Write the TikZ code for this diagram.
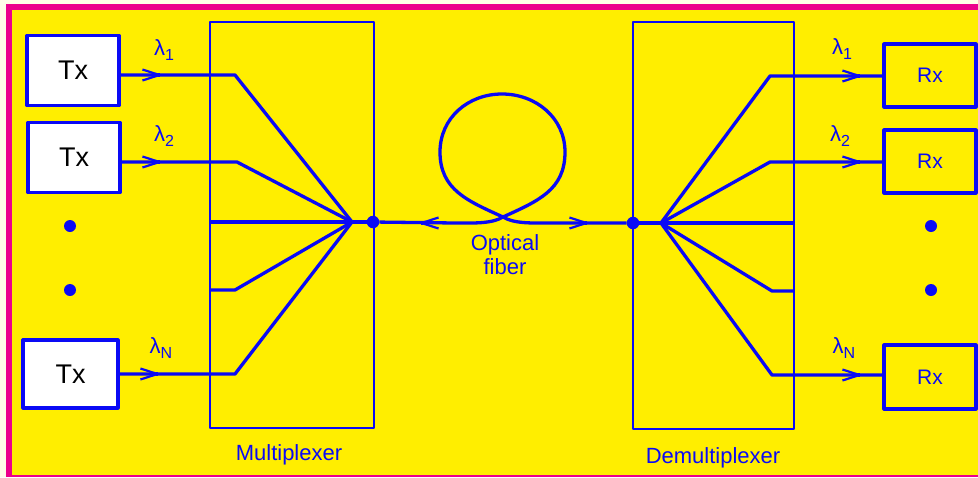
\documentclass[tikz,border=0pt]{standalone}
\usepackage{fontspec}
\setmainfont{Liberation Sans}
\usetikzlibrary{arrows.meta,calc}
\definecolor{bg}{RGB}{255,253,232}
\definecolor{mag}{RGB}{236,0,140}
\definecolor{yel}{RGB}{255,238,0}
\definecolor{fblue}{RGB}{10,10,245}
\newcommand{\lamsub}[1]{λ\raisebox{-5pt}{\fontsize{16}{16}\selectfont #1}}
\begin{document}
\begin{tikzpicture}[x=1pt,y=-1pt,line join=round,
 wire/.style={draw=fblue,line width=3.3pt},
 tip/.style={-{Straight Barb[length=17pt,width=11pt,line width=2.2pt]}},
 txbox/.style={draw=fblue,fill=white,line width=3.2pt,minimum width=92pt,minimum height=70pt,font=\fontsize{27}{30}\selectfont,text=black,inner sep=0pt},
 rxbox/.style={draw=fblue,line width=3.2pt,minimum width=92pt,minimum height=63pt,font=\fontsize{21}{25}\selectfont,text=fblue,inner sep=0pt},
 unit/.style={draw=fblue,line width=2.8pt,inner sep=0pt},
 lab/.style={text=fblue,font=\fontsize{22}{24}\selectfont,inner sep=0pt},
 lam/.style={text=fblue,font=\fontsize{22}{24}\selectfont,inner sep=0pt},
 dot/.style={circle,fill=fblue,inner sep=0pt,minimum size=#1},
 dot/.default=12pt
]
% background and frame
\fill[bg] (0,0) rectangle (978,477);
\fill[mag] (6,4) rectangle (978,477);
\fill[yel] (12,10) rectangle (978,475);
\useasboundingbox (0,0) rectangle (978,477);

% transmitters and receivers
\node[txbox] (tx1) at (73,70.5) {Tx};
\node[txbox] (tx2) at (74,157.5) {Tx};
\node[txbox,minimum width=95pt,minimum height=68pt] (txn) at (70.5,374) {Tx};
\node[rxbox] (rx1) at (930,75.5) {Rx};
\node[rxbox] (rx2) at (930,161.5) {Rx};
\node[rxbox,minimum height=64pt] (rxn) at (930,377) {Rx};

% units
\node[unit,minimum width=164pt,minimum height=406pt] (mux) at (292,225) {};
\node[unit,minimum width=161pt,minimum height=407pt] (dmx) at (713.5,225.5) {};
\node[lab] (muxl) at (289,455) {Multiplexer};
\node[lab] (dmxl) at (713,458) {Demultiplexer};
\node[lab,align=center] (fibl) at (505,255) {Optical\\fiber};

% ellipsis dots
\node[dot] (d1) at (70,226) {};
\node[dot] (d2) at (70,290) {};
\node[dot] (d3) at (931,226) {};
\node[dot] (d4) at (931,290) {};

% junctions
\node[dot=12.5pt] (dm) at (373,222) {};
\node[dot=12.5pt] (dd) at (633,223) {};
\coordinate (jm) at (352,222);
\coordinate (jd) at (661,223);

% multiplexer wiring
\coordinate (k1) at (235,75);
\coordinate (k2) at (237,162);
\coordinate (k4) at (235,290);
\coordinate (kn) at (235,374);
\coordinate (m3) at (210,222);
\coordinate (m4) at (210,290);
\coordinate (a1) at (163,75);
\coordinate (a2) at (163,162);
\coordinate (an) at (161,374);
\draw[wire] (tx1.east |- k1) -- (k1) -- (jm);
\draw[wire] (tx2.east |- k2) -- (k2) -- (jm);
\draw[wire] (txn.east |- kn) -- (kn) -- (jm);
\draw[wire] (m3) -- (jm);
\draw[wire] (m4) -- (k4) -- (jm);
\draw[wire] (jm) -- (dm);
\draw[wire,tip] ($(a1)+(-3,0)$) -- (a1);
\draw[wire,tip] ($(a2)+(-3,0)$) -- (a2);
\draw[wire,tip] ($(an)+(-3,0)$) -- (an);

% fiber
\coordinate (fl) at (418,223);
\coordinate (fr) at (590,223);
\coordinate (fx) at (503,217);
\draw[wire] (dm) -- (455,223) .. controls (472,223) and (492,224) .. (fx)
  .. controls (538,201) and (565,190) .. (565,152)
  .. controls (565,118) and (536,94) .. (502,94)
  .. controls (468,94) and (440,118) .. (440,152)
  .. controls (440,190) and (468,201) .. (fx)
  .. controls (514,224) and (534,223) .. (551,223) -- (dd);
\draw[wire,tip] ($(fl)+(3,0)$) -- (fl);
\draw[wire,tip] ($(fr)+(-3,0)$) -- (fr);

% demultiplexer wiring
\coordinate (r1) at (770,76);
\coordinate (r2) at (770,162);
\coordinate (r4) at (772,291);
\coordinate (rn) at (772,375);
\coordinate (e3) at (794,223);
\coordinate (e4) at (794,291);
\coordinate (b1) at (863,76);
\coordinate (b2) at (863,162);
\coordinate (bn) at (863,375);
\draw[wire] (dd) -- (jd);
\draw[wire] (jd) -- (r1) -- (rx1.west |- r1);
\draw[wire] (jd) -- (r2) -- (rx2.west |- r2);
\draw[wire] (jd) -- (rn) -- (rxn.west |- rn);
\draw[wire] (jd) -- (e3);
\draw[wire] (jd) -- (r4) -- (e4);
\draw[wire,tip] ($(b1)+(-3,0)$) -- (b1);
\draw[wire,tip] ($(b2)+(-3,0)$) -- (b2);
\draw[wire,tip] ($(bn)+(-3,0)$) -- (bn);

% wavelength labels
\node[lam] (l1) at (164,50) {\lamsub{1}};
\node[lam] (l2) at (164,136) {\lamsub{2}};
\node[lam] (ln) at (161,348) {\lamsub{N}};
\node[lam] (l3) at (842,49) {\lamsub{1}};
\node[lam] (l4) at (840,136) {\lamsub{2}};
\node[lam] (l5) at (844,348) {\lamsub{N}};
\end{tikzpicture}
\end{document}
